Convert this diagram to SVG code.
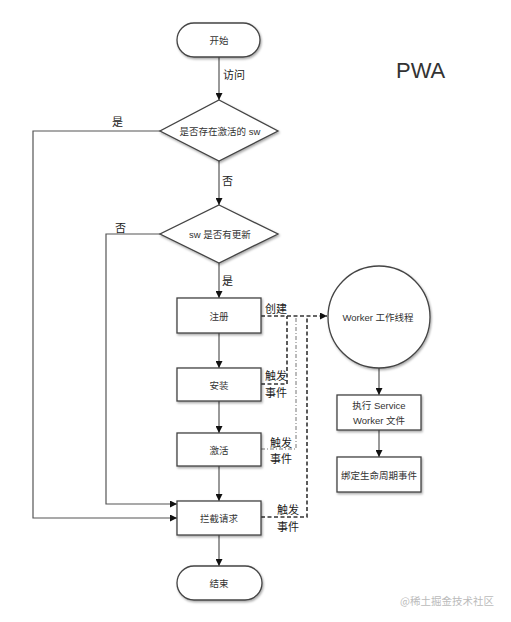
<svg xmlns="http://www.w3.org/2000/svg" width="511" height="622" viewBox="0 0 511 622">
<style>
.shape{fill:#fff;stroke:#444;stroke-width:1.3;filter:url(#sh)}
.t{font-family:"Liberation Sans","Noto Sans CJK SC",sans-serif;font-size:9.5px;fill:#333;text-anchor:middle;dominant-baseline:central}
.lbl{font-family:"Noto Sans CJK SC",sans-serif;font-size:11px;fill:#222;dominant-baseline:central}
.ln{fill:none;stroke:#555;stroke-width:1.2}
.dash{fill:none;stroke:#333;stroke-width:1.6;stroke-dasharray:4 2.5}
.dash2{fill:none;stroke:#777;stroke-width:1;stroke-dasharray:4 2 1 2}
</style>
<defs>
<filter id="sh" x="-10%" y="-10%" width="130%" height="140%">
<feDropShadow dx="1" dy="1.5" stdDeviation="1" flood-color="#000" flood-opacity="0.35"/>
</filter>
<marker id="ar" viewBox="0 0 10 10" refX="10" refY="5" markerWidth="7" markerHeight="7" orient="auto" markerUnits="userSpaceOnUse">
<path d="M0,0 L10,5 L0,10 z" fill="#111"/>
</marker>
</defs>
<rect width="511" height="622" fill="#fff"/>
<g id="connectors">
<path class="ln" d="M219,57 V100" marker-end="url(#ar)"/>
<path class="ln" d="M219,161 V205" marker-end="url(#ar)"/>
<path class="ln" d="M219,263 V298" marker-end="url(#ar)"/>
<path class="ln" d="M219,333 V368" marker-end="url(#ar)"/>
<path class="ln" d="M219,401 V433" marker-end="url(#ar)"/>
<path class="ln" d="M219,466 V501" marker-end="url(#ar)"/>
<path class="ln" d="M219,535 V566" marker-end="url(#ar)"/>
<path class="ln" d="M160,131 H33 V518 H177" marker-end="url(#ar)"/>
<path class="ln" d="M160,234 H106 V504 H177" marker-end="url(#ar)"/>
<path class="ln" d="M379,368 V395" marker-end="url(#ar)"/>
<path class="ln" d="M379,430 V457" marker-end="url(#ar)"/>
<path class="dash" d="M261,316 H327" marker-end="url(#ar)"/>
<path class="dash" d="M261,384 H287 V316"/>
<path class="dash2" d="M261,449 H296 V316"/>
<path class="dash" d="M261,517 H307 V316"/>
<text class="lbl" x="223" y="74">访问</text>
<text class="lbl" x="112" y="121">是</text>
<text class="lbl" x="222" y="180">否</text>
<text class="lbl" x="115" y="227">否</text>
<text class="lbl" x="222" y="280">是</text>
<text class="lbl" x="265" y="308">创建</text>
<text class="lbl" x="265" y="375">触发</text>
<text class="lbl" x="265" y="392">事件</text>
<text class="lbl" x="270" y="442">触发</text>
<text class="lbl" x="270" y="458">事件</text>
<text class="lbl" x="277" y="509">触发</text>
<text class="lbl" x="277" y="526">事件</text>
</g>
<g id="start"><rect class="shape" x="177" y="23" width="83" height="34" rx="17"/><text class="t" x="219" y="40">开始</text></g>
<g id="d1"><path class="shape" d="M219,100 L278,131 L219,161 L160,131 Z"/><text class="t" x="220" y="131">是否存在激活的 sw</text></g>
<g id="d2"><path class="shape" d="M219,205 L278,234 L219,263 L160,234 Z"/><text class="t" x="220" y="234">sw 是否有更新</text></g>
<g id="register"><rect class="shape" x="177" y="298" width="84" height="35"/><text class="t" x="219" y="316">注册</text></g>
<g id="install"><rect class="shape" x="177" y="368" width="84" height="33"/><text class="t" x="219" y="385">安装</text></g>
<g id="activate"><rect class="shape" x="177" y="433" width="84" height="33"/><text class="t" x="219" y="450">激活</text></g>
<g id="intercept"><rect class="shape" x="177" y="501" width="84" height="34"/><text class="t" x="219" y="518">拦截请求</text></g>
<g id="end"><rect class="shape" x="177" y="566" width="85" height="34" rx="17"/><text class="t" x="219" y="583">结束</text></g>
<g id="worker"><circle class="shape" cx="379" cy="317" r="51"/><text class="t" x="378" y="317">Worker 工作线程</text></g>
<g id="exec"><rect class="shape" x="337" y="395" width="84" height="35"/><text class="t" x="379" y="405">执行 Service</text><text class="t" x="379" y="420">Worker 文件</text></g>
<g id="bind"><rect class="shape" x="337" y="457" width="84" height="35"/><text class="t" x="379" y="475">绑定生命周期事件</text></g>
<text x="396" y="78" font-family="'Liberation Sans',sans-serif" font-size="22" fill="#333">PWA</text>
<text x="400" y="600" font-family="'Noto Sans CJK SC',sans-serif" font-size="10.5" fill="#bbb" dominant-baseline="central">@稀土掘金技术社区</text>
</svg>
